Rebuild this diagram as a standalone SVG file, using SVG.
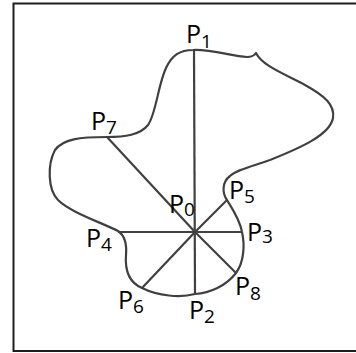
<svg xmlns="http://www.w3.org/2000/svg" width="356" height="353" viewBox="0 0 356 353">
<style>
.frame{fill:none;stroke:#1e1e1e;stroke-width:2}
.curve{fill:none;stroke:#404040;stroke-width:2.2;stroke-linejoin:round}
.ray{stroke:#404040;stroke-width:2.2;stroke-linecap:butt}
.lbl{font-family:"Open Sans","Liberation Sans",sans-serif;font-size:25px;fill:#000}
.sub{font-size:19px}
</style>
<rect x="0" y="0" width="356" height="353" fill="#fff"/>
<path class="frame" d="M356,3.5 H13.5 V351 H356"/>
<g id="shape">
<path class="curve" d="M193,50 C210,49 232,56 247,57 C251,57 254,56 256,53 C262,65 280,72 305,85 C325,96 335,105 333,118 C330,135 300,148 270,160 C250,167 236,170 230,176 C222,182 222,193 227,200 C233,210 240,220 242,232 C245,245 244,262 236,273 C226,286 210,293 195,294 C180,298 158,296 142,288 C128,282 125,268 126,255 C127,243 124,235 118,231 C100,222 70,212 58,200 C48,190 47,165 55,150 C63,139 80,137 107,137 C125,137 140,135 148,125 C156,114 158,85 166,68 C172,55 180,50 193,50 Z"/>
</g>
<g id="connectors">
<line class="ray" x1="194" y1="50" x2="195" y2="294"/>
<line class="ray" x1="107" y1="137" x2="195" y2="232"/>
<line class="ray" x1="118" y1="232" x2="242" y2="232"/>
<line class="ray" x1="227" y1="200" x2="195" y2="232"/>
<line class="ray" x1="142" y1="288" x2="195" y2="232"/>
<line class="ray" x1="236" y1="273" x2="195" y2="232"/>
</g>
<g id="P0"><text class="lbl" x="169" y="213">P<tspan class="sub" dy="3">0</tspan></text></g>
<g id="P1"><text class="lbl" x="186" y="43">P<tspan class="sub" dy="5">1</tspan></text></g>
<g id="P2"><text class="lbl" x="189" y="319">P<tspan class="sub" dy="4">2</tspan></text></g>
<g id="P3"><text class="lbl" x="247" y="241">P<tspan class="sub" dy="2">3</tspan></text></g>
<g id="P4"><text class="lbl" x="86" y="247">P<tspan class="sub" dy="4">4</tspan></text></g>
<g id="P5"><text class="lbl" x="229" y="199">P<tspan class="sub" dy="4">5</tspan></text></g>
<g id="P6"><text class="lbl" x="118" y="309">P<tspan class="sub" dy="4">6</tspan></text></g>
<g id="P7"><text class="lbl" x="91" y="130">P<tspan class="sub" dy="4">7</tspan></text></g>
<g id="P8"><text class="lbl" x="235" y="295">P<tspan class="sub" dy="5">8</tspan></text></g>
</svg>
